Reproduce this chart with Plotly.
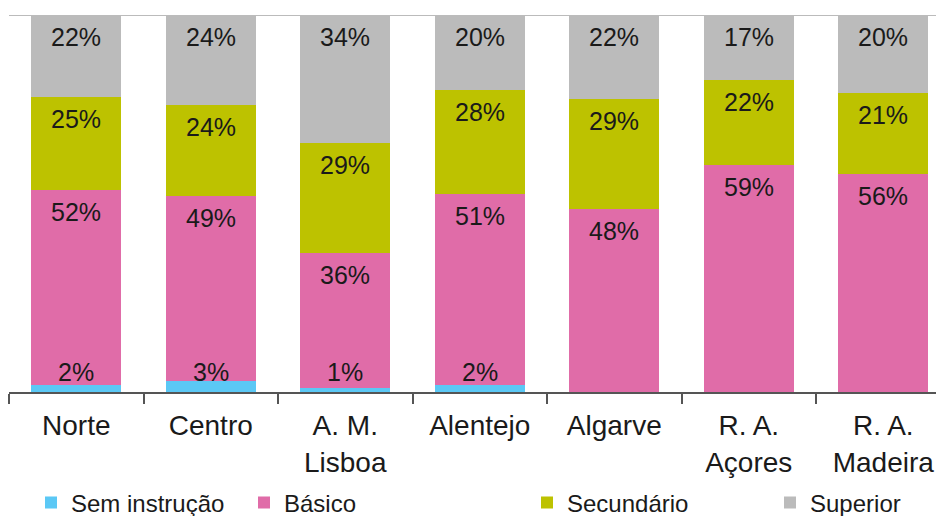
import plotly.graph_objects as go

categories = ["Norte", "Centro", "A. M.<br>Lisboa", "Alentejo", "Algarve", "R. A.<br>Açores", "R. A.<br>Madeira"]
sem_instrucao = [2, 3, 1, 2, 0, 0, 0]
basico = [52, 49, 36, 51, 48, 59, 56]
secundario = [25, 24, 29, 28, 29, 22, 21]
superior = [22, 24, 34, 20, 22, 17, 20]

series = [
    ("Sem instrução", sem_instrucao, "#5BC8F5"),
    ("Básico", basico, "#E06CA8"),
    ("Secundário", secundario, "#BDC200"),
    ("Superior", superior, "#BBBBBB"),
]

# the page body adds an 8px margin, so the figure is drawn 8px smaller
OFF = 8
W, H = 944 - OFF, 516 - OFF
ML, MR, MT = 9 - OFF, 0, 15 - OFF
plot_bottom = 392 - OFF
MB = H - plot_bottom
plot_w = W - ML - MR
plot_h = H - MT - MB
cat_px = 134.5  # pixel width of one category in reference
x_max = plot_w / cat_px - 0.5

fig = go.Figure()
legend_names = ["legend", "legend2", "legend3", "legend4"]
for i, (name, vals, col) in enumerate(series):
    fig.add_trace(go.Bar(
        x=categories, y=vals, name=name, marker_color=col,
        marker_line_width=0, legend=legend_names[i], showlegend=True,
        hoverinfo="skip",
    ))

# annotations from normalized cumulative values
totals = [sum(s[1][j] for s in series) for j in range(len(categories))]
annotations = []
for j, cat in enumerate(categories):
    cum = 0.0
    for i, (name, vals, col) in enumerate(series):
        v = vals[j]
        nv = v / totals[j] * 100
        cum += nv
        if v == 0:
            continue
        if i == 0:
            annotations.append(dict(x=cat, y=0, text=f"{v}%", showarrow=False,
                                    yanchor="middle", yshift=20,
                                    font=dict(size=25, color="#1a1a1a", family="Liberation Sans")))
        else:
            annotations.append(dict(x=cat, y=cum, text=f"{v}%", showarrow=False,
                                    yanchor="middle", yshift=-22,
                                    font=dict(size=25, color="#1a1a1a", family="Liberation Sans")))

legend_text_px = [71, 284, 567, 810]
legend_y_px = 503
layout_legends = {}
for k, ln in enumerate(legend_names):
    xpx = legend_text_px[k] - OFF - 40
    layout_legends[ln] = dict(
        x=(xpx - ML) / plot_w, y=-(legend_y_px - OFF - plot_bottom) / plot_h,
        xanchor="left", yanchor="middle", orientation="h",
        font=dict(size=24, color="#1a1a1a", family="Liberation Sans"),
        bgcolor="rgba(0,0,0,0)", borderwidth=0, visible=True,
    )

fig.update_layout(
    width=W, height=H,
    margin=dict(l=ML, r=MR, t=MT, b=MB, pad=0, autoexpand=False),
    barmode="stack", barnorm="percent", bargap=0.33,
    plot_bgcolor="white", paper_bgcolor="white",
    annotations=annotations, showlegend=True,
    font=dict(family="Liberation Sans", color="#1a1a1a"),
    shapes=[dict(type="line", xref="paper", yref="y", x0=0, x1=1, y0=100, y1=100,
                 line=dict(color="#BBBBBB", width=2), layer="below")],
    **layout_legends,
)
fig.update_xaxes(
    range=[-0.5, x_max], showline=True, linecolor="#555555", linewidth=1.5,
    ticks="outside", tickson="boundaries", ticklen=10, tickcolor="#555555", tickwidth=1.5,
    tickfont=dict(size=28, color="#1a1a1a", family="Liberation Sans"),
    ticklabelstandoff=8, automargin=False,
    showgrid=False, fixedrange=True,
)
fig.update_yaxes(
    range=[0, 100], showticklabels=False, showgrid=False,
    zeroline=False, showline=False, automargin=False,
)

fig.write_html("out.html")
